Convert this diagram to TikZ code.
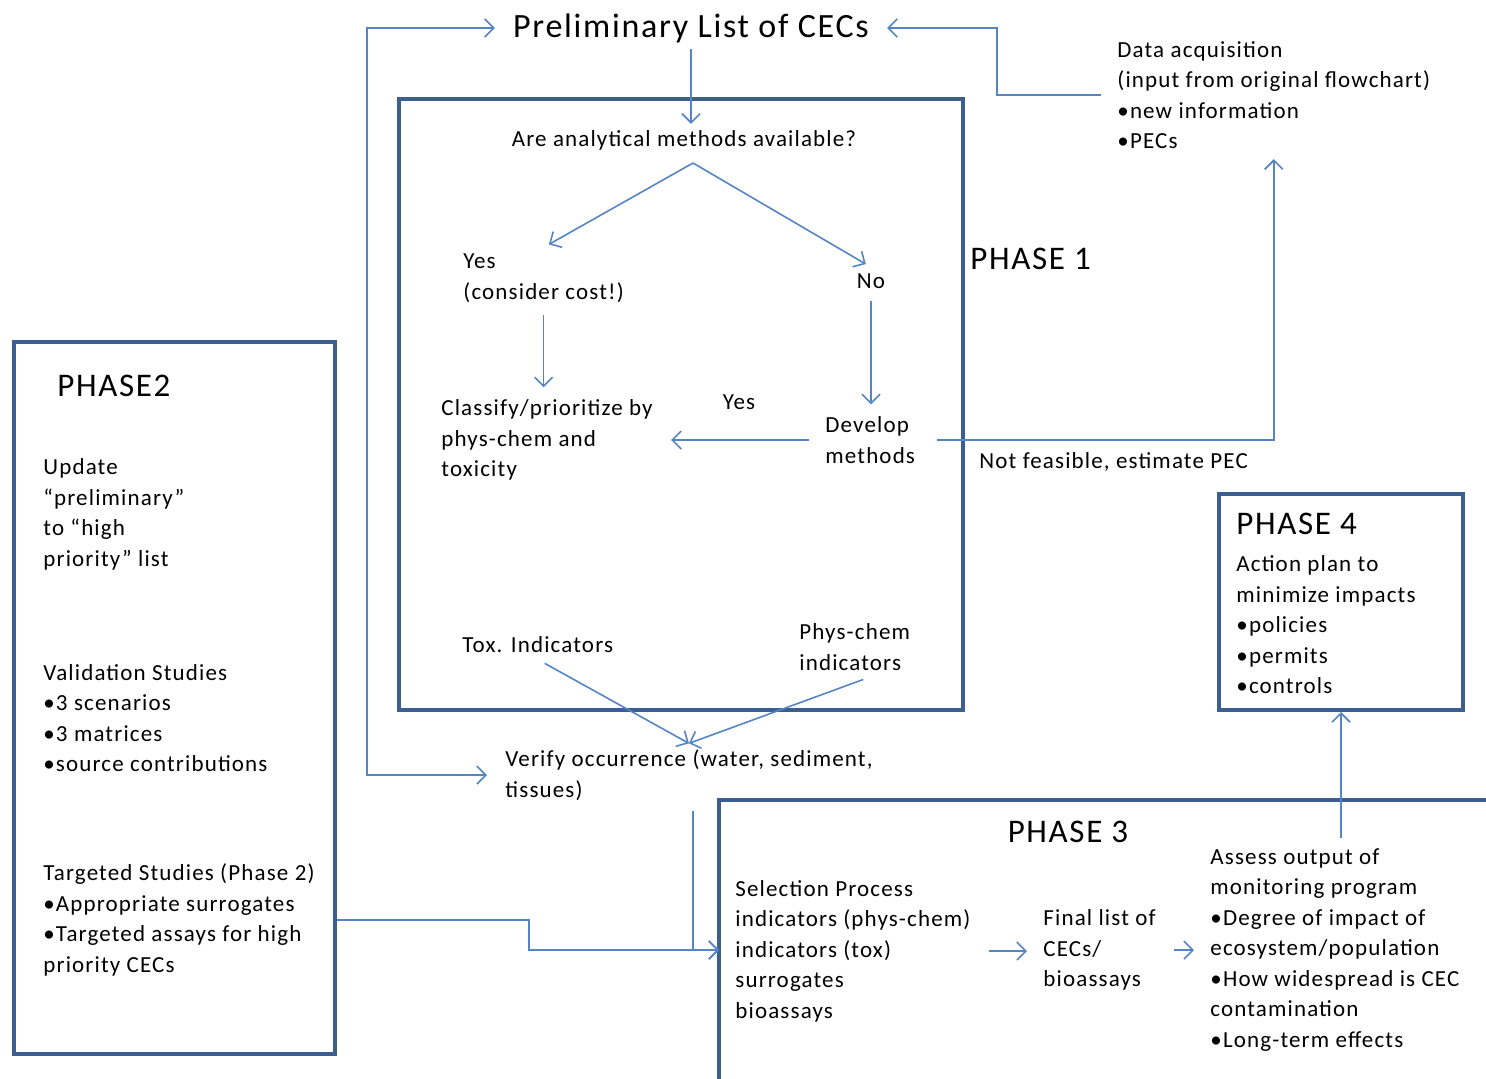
\documentclass[tikz,border=0pt]{standalone}
\usepackage{fontspec}
\setmainfont{Carlito}[LetterSpace=5]
\usetikzlibrary{arrows.meta,calc,positioning}
\definecolor{boxblue}{HTML}{3B5F91}
\definecolor{linkblue}{HTML}{5585C2}
\tikzset{
  >={Straight Barb[length=4.5pt,width=9pt]},
  phbox/.style={draw=boxblue,line width=2pt,inner sep=0pt},
  link/.style={linkblue,line width=0.8pt,->},
  lbl/.style={font=\fontsize{11.5}{15.25}\selectfont,align=left,inner sep=3pt,text=black},
  ttl/.style={font=\fontsize{17}{20}\selectfont,inner xsep=9pt,inner ysep=3pt},
  phs/.style={font=\fontsize{16.5}{19}\selectfont,inner sep=0pt},
}

\begin{document}
\begin{tikzpicture}[x=0.5pt,y=-0.5pt]
  \useasboundingbox (0,0) rectangle (1486,1078);
  % phase frames
  \node[phbox,minimum width=282pt,minimum height=305.5pt] (p1) at (681,404.5) {};
  \node[phbox,minimum width=160.5pt,minimum height=356pt] (p2) at (174.5,698) {};
  \node[phbox,minimum width=122pt,minimum height=108pt] (p4) at (1341,602) {};
  \draw[phbox] (719,1090) -- (719,800) -- (1495,800);
  \coordinate (p3in) at (719,950);

  \node[ttl] (prelim) at (691,28) {Preliminary List of CECs};
  \node[lbl,anchor=west] (data) at (1111,95) {Data acquisition\\(input from original flowchart)\\•new information\\•PECs};

  % phase 1
  \node[phs,anchor=west] at (970,259) {PHASE 1};
  \node[lbl] (avail) at (684,140) {Are analytical methods available?};
  \node[lbl,anchor=west] (yes) at (457,278) {Yes\\(consider cost!)};
  \node[lbl] (no) at (871,281) {No};
  \node[lbl,anchor=west] (classify) at (435,440) {Classify/prioritize by\\phys-chem and\\toxicity};
  \node[lbl,anchor=west] (develop) at (819,440) {Develop\\methods};
  \node[lbl,anchor=west] (tox) at (456,645) {Tox. Indicators};
  \node[lbl,anchor=west] (phys) at (793,647) {Phys-chem\\indicators};
  \node[lbl,anchor=west] (verify) at (499,775) {Verify occurrence (water, sediment,\\tissues)};

  % phase 2
  \node[phs,anchor=west] at (57,386) {PHASE2};
  \node[lbl,anchor=west] (update) at (37,514.5) {Update\\“preliminary”\\to “high\\priority” list};
  \node[lbl,anchor=west] (valid) at (37,718) {Validation Studies\\•3 scenarios\\•3 matrices\\•source contributions};
  \node[lbl,anchor=west] (tgt) at (37,920) {Targeted Studies (Phase 2)\\•Appropriate surrogates\\•Targeted assays for high\\priority CECs};

  % phase 3
  \node[phs] at (1068,832) {PHASE 3};
  \node[lbl,anchor=west] (sel) at (729,951) {Selection Process\\indicators (phys-chem)\\indicators (tox)\\surrogates\\bioassays};
  \node[lbl,anchor=west] (final) at (1037,950) {Final list of\\CECs/\\bioassays};
  \node[lbl,anchor=west] (assess) at (1204,950) {Assess output of\\monitoring program\\•Degree of impact of\\ecosystem/population\\•How widespread is CEC\\contamination\\•Long-term effects};

  % phase 4
  \node[phs,anchor=west] at (1236,524) {PHASE 4};
  \node[lbl,anchor=west] (plan) at (1230,625) {Action plan to\\minimize impacts\\•policies\\•permits\\•controls};

  \coordinate (fork) at (693,163);
  \coordinate (loop) at (367,28);
  \draw[link] (prelim.south) -- (prelim.south |- avail.north);
  \draw[link,shorten >=3pt] (fork) -- (yes.north);
  \draw[link,shorten >=3pt] (fork) -- (no.north);
  \draw[link,shorten <=3pt,shorten >=3pt] (yes.south) -- (yes.south |- classify.north);
  \draw[link,shorten <=3pt,shorten >=3pt] (no.south) -- (no.south |- develop.north);
  \draw[link,shorten <=5pt,shorten >=6pt] (develop.west) -- (classify.east)
    node[midway,above=12pt,lbl] {Yes};
  \draw[link,shorten <=8pt,shorten >=2pt] (develop.east) -| (data.south)
    node[pos=0.25,below=3pt,xshift=8pt,lbl] {Not feasible, estimate PEC};
  \draw[link,shorten <=4pt] (tox.south) -- (verify.north);
  \draw[link,shorten <=4pt] ([xshift=8pt]phys.south) -- (verify.north);
  \draw[link,<->,shorten >=6pt] (prelim.west) -- (loop) |- (verify.west);
  \draw[link,shorten <=2pt] ([xshift=2pt]verify.south) |- (p3in);
  \draw[link] (p2.east |- tgt.east) -- ++(192,0) |- (p3in);
  \draw[link,shorten <=6pt,shorten >=5pt] (sel.east) -- (sel.east -| final.west);
  \draw[link,shorten <=6pt,shorten >=5pt] (final.east) -- (final.east -| assess.west);
  \draw[link,shorten <=2pt] (p4.south |- assess.north) -- (p4.south);
  \draw[link,shorten <=5pt] (data.west) -- ++(-114,0) |- (prelim.east);
\end{tikzpicture}
\end{document}
